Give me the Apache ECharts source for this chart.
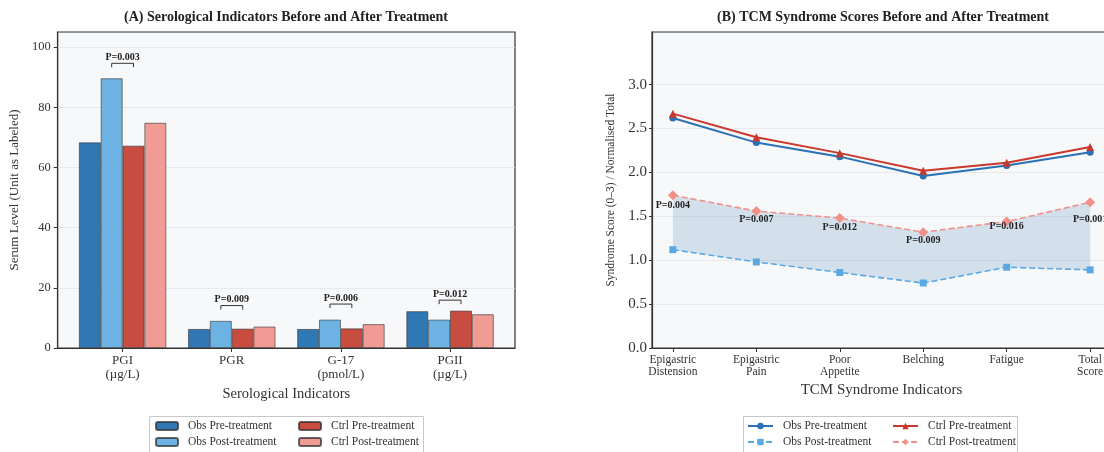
<!DOCTYPE html>
<html>
<head>
<meta charset="utf-8">
<script src="https://cdn.jsdelivr.net/npm/echarts@6/dist/echarts.min.js"></script>
<style>
  html, body { margin: 0; padding: 0; background: #fff; }
  #wrap { position: relative; width: 1104px; height: 452px; overflow: hidden; }
  #serum { position: absolute; left: 0; top: 0; width: 552px; height: 452px; }
  #tcm { position: absolute; left: 552px; top: 0; width: 560px; height: 452px; }
</style>
</head>
<body>
<div id="wrap">
  <div id="serum"></div>
  <div id="tcm"></div>
</div>
<script>
// panel A data
var serumCats = ['PGI\n(µg/L)', 'PGR', 'G-17\n(pmol/L)', 'PGII\n(µg/L)'];
var serumTicks = [0, 20, 40, 60, 80, 100];
var obsPre = [68.3, 6.3, 6.3, 12.2];
var obsPost = [89.6, 9.0, 9.4, 9.4];
var ctrlPre = [67.2, 6.4, 6.5, 12.4];
var ctrlPost = [74.8, 7.1, 7.9, 11.2];
var serumP = ['P=0.003', 'P=0.009', 'P=0.006', 'P=0.012'];
var serumBracketY = [94.6, 14.1, 14.6, 15.9];

// panel B data
var tcmCats = ['Epigastric\nDistension', 'Epigastric\nPain', 'Poor\nAppetite', 'Belching', 'Fatigue', 'Total\nScore'];
var tcmTicks = [0, 0.5, 1.0, 1.5, 2.0, 2.5, 3.0];
var tcmObsPre = [2.62, 2.34, 2.18, 1.96, 2.08, 2.23];
var tcmCtrlPre = [2.67, 2.40, 2.22, 2.02, 2.11, 2.29];
var tcmObsPost = [1.12, 0.98, 0.86, 0.74, 0.92, 0.89];
var tcmCtrlPost = [1.74, 1.56, 1.48, 1.32, 1.44, 1.66];
var tcmP = ['P=0.004', 'P=0.007', 'P=0.012', 'P=0.009', 'P=0.016', 'P=0.001'];
var tcmPY = [1.63, 1.47, 1.37, 1.23, 1.38, 1.47];

var FONT = '"Liberation Serif", "DejaVu Serif", serif';
var TXT = '#333';

function pairs(arr) {
    return arr.map(function (v, i) { return [i, v]; });
}

var serum = echarts.init(document.getElementById('serum'));
var tcm = echarts.init(document.getElementById('tcm'));

function barSeries(name, values, color) {
    return {
        name: name,
        type: 'bar',
        data: pairs(values),
        barGap: '0%',
        barCategoryGap: '20%',
        itemStyle: { color: color, borderColor: 'rgba(50,50,50,0.75)', borderWidth: 0.8 },
        z: 2
    };
}

var legendBase = {
    orient: 'vertical',
    padding: 0,
    itemWidth: 22,
    itemHeight: 8,
    itemGap: 4,
    textStyle: { fontFamily: FONT, fontSize: 11.5, color: TXT, padding: [0, 0, 0, 5] }
};

serum.setOption({
    animation: false,
    textStyle: { fontFamily: FONT },
    title: {
        text: '(A) Serological Indicators Before and After Treatment',
        left: 286, top: 10, textAlign: 'center', padding: 0,
        textStyle: { fontFamily: FONT, fontSize: 14, fontWeight: 'bold', color: '#222' }
    },
    grid: {
        left: 57, right: 37, top: 32, bottom: 104,
        show: true, backgroundColor: '#f7f8fa', borderColor: '#333', borderWidth: 1.2
    },
    xAxis: {
        type: 'value', min: -0.595, max: 3.595,
        name: 'Serological Indicators', nameLocation: 'middle', nameGap: 37,
        nameTextStyle: { fontFamily: FONT, fontSize: 14.5, color: TXT },
        axisLine: { lineStyle: { color: '#333', width: 1.2 } },
        axisTick: { customValues: [0, 1, 2, 3], length: 4, lineStyle: { color: '#333' } },
        axisLabel: {
            customValues: [0, 1, 2, 3], margin: 6,
            fontFamily: FONT, fontSize: 13, color: TXT, lineHeight: 14,
            formatter: function (v) { return serumCats[Math.round(v)]; }
        },
        splitLine: { show: false }
    },
    yAxis: {
        type: 'value', min: 0, max: 105,
        name: 'Serum Level (Unit as Labeled)', nameLocation: 'middle', nameGap: 34,
        nameTextStyle: { fontFamily: FONT, fontSize: 13, color: TXT },
        axisLine: { show: true, onZero: false, lineStyle: { color: '#333', width: 1.2 } },
        axisTick: { show: true, customValues: serumTicks, length: 4, lineStyle: { color: '#333' } },
        axisLabel: { customValues: serumTicks, fontFamily: FONT, fontSize: 12.5, color: TXT, margin: 7 },
        splitLine: { show: true, lineStyle: { color: '#e2e5ea', width: 0.8 } }
    },
    legend: [
        Object.assign({}, legendBase, { left: 155, top: 420, data: ['Obs Pre-treatment', 'Obs Post-treatment'] }),
        Object.assign({}, legendBase, { left: 298, top: 420, data: ['Ctrl Pre-treatment', 'Ctrl Post-treatment'] })
    ],
    graphic: [{
        type: 'rect', left: 149, top: 416,
        shape: { width: 274, height: 42 },
        style: { fill: '#fff', stroke: '#c8c8c8', lineWidth: 1 },
        z: -1
    }],
    series: [
        barSeries('Obs Pre-treatment', obsPre, '#2f78b4'),
        barSeries('Obs Post-treatment', obsPost, '#6cb3e3'),
        barSeries('Ctrl Pre-treatment', ctrlPre, '#c84c40'),
        barSeries('Ctrl Post-treatment', ctrlPost, '#f09c95'),
        {
            type: 'custom',
            data: pairs(serumBracketY),
            z: 5,
            renderItem: function (params, api) {
                var a = api.coord([api.value(0) - 0.1, api.value(1)]);
                var b = api.coord([api.value(0) + 0.1, api.value(1)]);
                return {
                    type: 'group',
                    children: [{
                        type: 'polyline',
                        shape: { points: [[a[0], a[1] + 4], [a[0], a[1]], [b[0], b[1]], [b[0], b[1] + 4]] },
                        style: { stroke: '#333', lineWidth: 1, fill: null }
                    }, {
                        type: 'text',
                        x: (a[0] + b[0]) / 2, y: a[1] - 6,
                        style: {
                            text: serumP[params.dataIndex], align: 'center', verticalAlign: 'middle',
                            fontFamily: FONT, fontSize: 10, fontWeight: 'bold', fill: '#222'
                        }
                    }]
                };
            }
        }
    ]
});

function lineSeries(name, values, color, symbol, size, dashed, z) {
    return {
        name: name,
        type: 'line',
        data: pairs(values),
        symbol: symbol,
        symbolSize: size,
        itemStyle: { color: color },
        lineStyle: { color: color, width: dashed ? 1.6 : 2, type: dashed ? [6, 3] : 'solid' },
        z: z
    };
}

tcm.setOption({
    animation: false,
    textStyle: { fontFamily: FONT },
    title: {
        text: '(B) TCM Syndrome Scores Before and After Treatment',
        left: 331, top: 10, textAlign: 'center', padding: 0,
        textStyle: { fontFamily: FONT, fontSize: 14, fontWeight: 'bold', color: '#222' }
    },
    grid: {
        left: 100, right: 1, top: 32, bottom: 104,
        show: true, backgroundColor: '#f7f8fa', borderColor: '#333', borderWidth: 1.2
    },
    xAxis: {
        type: 'value', min: -0.25, max: 5.25,
        name: 'TCM Syndrome Indicators', nameLocation: 'middle', nameGap: 34,
        nameTextStyle: { fontFamily: FONT, fontSize: 15, color: TXT },
        axisLine: { lineStyle: { color: '#333', width: 1.2 } },
        axisTick: { customValues: [0, 1, 2, 3, 4, 5], length: 4, lineStyle: { color: '#333' } },
        axisLabel: {
            customValues: [0, 1, 2, 3, 4, 5], margin: 6,
            fontFamily: FONT, fontSize: 11.5, color: TXT, lineHeight: 12,
            formatter: function (v) { return tcmCats[Math.round(v)]; }
        },
        splitLine: { show: false }
    },
    yAxis: {
        type: 'value', min: 0, max: 3.6,
        name: 'Syndrome Score (0–3) / Normalised Total', nameLocation: 'middle', nameGap: 31,
        nameTextStyle: { fontFamily: FONT, fontSize: 11.5, color: TXT },
        axisLine: { show: true, onZero: false, lineStyle: { color: '#333', width: 1.2 } },
        axisTick: { show: true, customValues: tcmTicks, length: 3, lineStyle: { color: '#333' } },
        axisLabel: {
            customValues: tcmTicks, fontFamily: FONT, fontSize: 15, color: TXT, margin: 5,
            formatter: function (v) { return v.toFixed(1); }
        },
        splitLine: { show: true, lineStyle: { color: '#e2e5ea', width: 0.8 } }
    },
    legend: [
        Object.assign({}, legendBase, { itemWidth: 25, left: 195, top: 420, data: ['Obs Pre-treatment', 'Obs Post-treatment'] }),
        Object.assign({}, legendBase, { itemWidth: 25, left: 340, top: 420, data: ['Ctrl Pre-treatment', 'Ctrl Post-treatment'] })
    ],
    graphic: [{
        type: 'rect', left: 191, top: 416,
        shape: { width: 274, height: 42 },
        style: { fill: '#fff', stroke: '#c8c8c8', lineWidth: 1 },
        z: -1
    }],
    series: [
        {
            type: 'custom',
            data: [[0, 0]],
            z: 1,
            silent: true,
            renderItem: function (params, api) {
                var pts = [];
                tcmCtrlPost.forEach(function (v, i) { pts.push(api.coord([i, v])); });
                for (var i = tcmObsPost.length - 1; i >= 0; i--) pts.push(api.coord([i, tcmObsPost[i]]));
                return {
                    type: 'polygon',
                    shape: { points: pts },
                    style: { fill: 'rgba(70,130,180,0.2)', stroke: null }
                };
            }
        },
        lineSeries('Obs Pre-treatment', tcmObsPre, '#2b71b5', 'circle', 7, false, 4),
        lineSeries('Obs Post-treatment', tcmObsPost, '#5aa9e3', 'rect', 7, true, 3),
        lineSeries('Ctrl Pre-treatment', tcmCtrlPre, '#c9382d', 'triangle', 8, false, 4),
        lineSeries('Ctrl Post-treatment', tcmCtrlPost, '#f2918a', 'diamond', 10, true, 3),
        {
            type: 'custom',
            data: pairs(tcmPY),
            z: 6,
            renderItem: function (params, api) {
                var p = api.coord([api.value(0), api.value(1)]);
                return {
                    type: 'text',
                    x: p[0], y: p[1],
                    style: {
                        text: tcmP[params.dataIndex], align: 'center', verticalAlign: 'middle',
                        fontFamily: FONT, fontSize: 10, fontWeight: 'bold', fill: '#222'
                    }
                };
            }
        }
    ]
});
</script>
</body>
</html>
